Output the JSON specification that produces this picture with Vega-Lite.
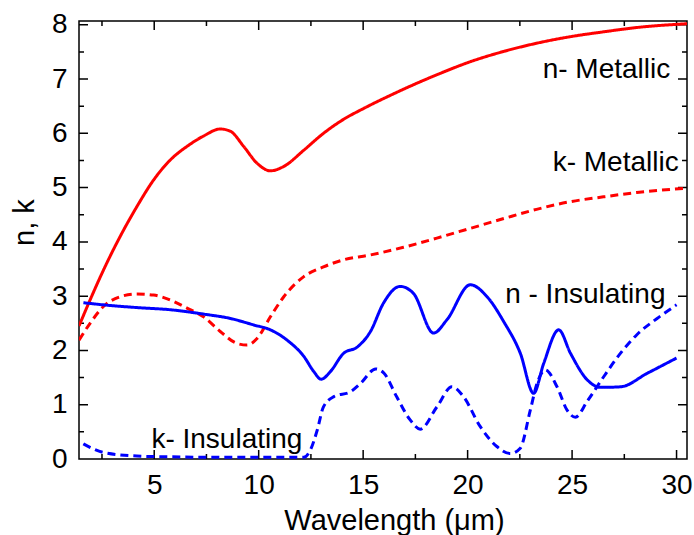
{
  "$schema": "https://vega.github.io/schema/vega-lite/v6.json",
  "width": 608,
  "height": 438,
  "autosize": "none",
  "padding": {"left": 79, "top": 21, "right": 7, "bottom": 76},
  "config": {
    "view": {"stroke": "#000", "strokeWidth": 1.5},
    "font": "Liberation Sans",
    "axis": {
      "domain": false,
      "ticks": false,
      "tickSize": 0,
      "grid": false,
      "labelFontSize": 28,
      "titleFontSize": 29,
      "labelColor": "#000",
      "titleColor": "#000",
      "titleFontWeight": "normal"
    }
  },
  "datasets": {
    "curves": [
      {"s": "n-Metallic", "x": 1.4, "y": 2.45}, {"s": "n-Metallic", "x": 1.93, "y": 2.93}, {"s": "n-Metallic", "x": 2.57, "y": 3.48}, {"s": "n-Metallic", "x": 3.37, "y": 4.1}, {"s": "n-Metallic", "x": 4.17, "y": 4.65}, {"s": "n-Metallic", "x": 4.97, "y": 5.14}, {"s": "n-Metallic", "x": 5.77, "y": 5.51}, {"s": "n-Metallic", "x": 6.57, "y": 5.76}, {"s": "n-Metallic", "x": 7.36, "y": 5.95}, {"s": "n-Metallic", "x": 8.16, "y": 6.08}, {"s": "n-Metallic", "x": 8.64, "y": 6.04}, {"s": "n-Metallic", "x": 9.28, "y": 5.76}, {"s": "n-Metallic", "x": 9.92, "y": 5.45}, {"s": "n-Metallic", "x": 10.56, "y": 5.31}, {"s": "n-Metallic", "x": 11.2, "y": 5.39}, {"s": "n-Metallic", "x": 12.16, "y": 5.69}, {"s": "n-Metallic", "x": 13.1, "y": 6.0}, {"s": "n-Metallic", "x": 14.07, "y": 6.26}, {"s": "n-Metallic", "x": 15.03, "y": 6.46}, {"s": "n-Metallic", "x": 16.3, "y": 6.7}, {"s": "n-Metallic", "x": 18.53, "y": 7.08}, {"s": "n-Metallic", "x": 20.13, "y": 7.32}, {"s": "n-Metallic", "x": 21.73, "y": 7.51}, {"s": "n-Metallic", "x": 23.3, "y": 7.66}, {"s": "n-Metallic", "x": 24.9, "y": 7.78}, {"s": "n-Metallic", "x": 26.5, "y": 7.87}, {"s": "n-Metallic", "x": 28.1, "y": 7.95}, {"s": "n-Metallic", "x": 30.5, "y": 8.02},
      {"s": "k-Metallic", "x": 1.4, "y": 2.19}, {"s": "k-Metallic", "x": 1.93, "y": 2.5}, {"s": "k-Metallic", "x": 2.57, "y": 2.81}, {"s": "k-Metallic", "x": 3.37, "y": 2.99}, {"s": "k-Metallic", "x": 4.17, "y": 3.04}, {"s": "k-Metallic", "x": 4.97, "y": 3.02}, {"s": "k-Metallic", "x": 5.77, "y": 2.93}, {"s": "k-Metallic", "x": 6.57, "y": 2.78}, {"s": "k-Metallic", "x": 7.36, "y": 2.62}, {"s": "k-Metallic", "x": 8.16, "y": 2.35}, {"s": "k-Metallic", "x": 8.96, "y": 2.13}, {"s": "k-Metallic", "x": 9.44, "y": 2.1}, {"s": "k-Metallic", "x": 9.92, "y": 2.22}, {"s": "k-Metallic", "x": 10.56, "y": 2.62}, {"s": "k-Metallic", "x": 11.2, "y": 2.99}, {"s": "k-Metallic", "x": 12.16, "y": 3.36}, {"s": "k-Metallic", "x": 13.1, "y": 3.54}, {"s": "k-Metallic", "x": 14.07, "y": 3.67}, {"s": "k-Metallic", "x": 15.35, "y": 3.76}, {"s": "k-Metallic", "x": 16.93, "y": 3.9}, {"s": "k-Metallic", "x": 18.53, "y": 4.07}, {"s": "k-Metallic", "x": 20.13, "y": 4.25}, {"s": "k-Metallic", "x": 21.73, "y": 4.43}, {"s": "k-Metallic", "x": 23.3, "y": 4.6}, {"s": "k-Metallic", "x": 24.9, "y": 4.74}, {"s": "k-Metallic", "x": 26.5, "y": 4.83}, {"s": "k-Metallic", "x": 28.1, "y": 4.91}, {"s": "k-Metallic", "x": 30.5, "y": 4.99},
      {"s": "n-Insulating", "x": 1.61, "y": 2.88}, {"s": "n-Insulating", "x": 2.57, "y": 2.84}, {"s": "n-Insulating", "x": 4.17, "y": 2.79}, {"s": "n-Insulating", "x": 5.77, "y": 2.75}, {"s": "n-Insulating", "x": 7.36, "y": 2.67}, {"s": "n-Insulating", "x": 8.64, "y": 2.59}, {"s": "n-Insulating", "x": 9.76, "y": 2.47}, {"s": "n-Insulating", "x": 10.56, "y": 2.38}, {"s": "n-Insulating", "x": 11.36, "y": 2.19}, {"s": "n-Insulating", "x": 12.16, "y": 1.89}, {"s": "n-Insulating", "x": 12.64, "y": 1.61}, {"s": "n-Insulating", "x": 12.99, "y": 1.47}, {"s": "n-Insulating", "x": 13.43, "y": 1.61}, {"s": "n-Insulating", "x": 14.07, "y": 1.95}, {"s": "n-Insulating", "x": 14.71, "y": 2.06}, {"s": "n-Insulating", "x": 15.35, "y": 2.35}, {"s": "n-Insulating", "x": 15.97, "y": 2.87}, {"s": "n-Insulating", "x": 16.77, "y": 3.18}, {"s": "n-Insulating", "x": 17.41, "y": 3.05}, {"s": "n-Insulating", "x": 18.37, "y": 2.32}, {"s": "n-Insulating", "x": 19.0, "y": 2.56}, {"s": "n-Insulating", "x": 20.13, "y": 3.21}, {"s": "n-Insulating", "x": 20.93, "y": 2.99}, {"s": "n-Insulating", "x": 21.73, "y": 2.53}, {"s": "n-Insulating", "x": 22.52, "y": 1.95}, {"s": "n-Insulating", "x": 23.16, "y": 1.21}, {"s": "n-Insulating", "x": 23.64, "y": 1.76}, {"s": "n-Insulating", "x": 24.36, "y": 2.38}, {"s": "n-Insulating", "x": 24.92, "y": 1.95}, {"s": "n-Insulating", "x": 25.72, "y": 1.46}, {"s": "n-Insulating", "x": 26.36, "y": 1.32}, {"s": "n-Insulating", "x": 27.32, "y": 1.33}, {"s": "n-Insulating", "x": 28.6, "y": 1.58}, {"s": "n-Insulating", "x": 30.0, "y": 1.86},
      {"s": "k-Insulating", "x": 1.61, "y": 0.28}, {"s": "k-Insulating", "x": 2.57, "y": 0.12}, {"s": "k-Insulating", "x": 4.17, "y": 0.055}, {"s": "k-Insulating", "x": 5.77, "y": 0.04}, {"s": "k-Insulating", "x": 8.96, "y": 0.03}, {"s": "k-Insulating", "x": 12.16, "y": 0.03}, {"s": "k-Insulating", "x": 12.48, "y": 0.17}, {"s": "k-Insulating", "x": 12.8, "y": 0.53}, {"s": "k-Insulating", "x": 13.1, "y": 0.96}, {"s": "k-Insulating", "x": 13.6, "y": 1.15}, {"s": "k-Insulating", "x": 14.4, "y": 1.24}, {"s": "k-Insulating", "x": 14.87, "y": 1.39}, {"s": "k-Insulating", "x": 15.6, "y": 1.66}, {"s": "k-Insulating", "x": 16.0, "y": 1.58}, {"s": "k-Insulating", "x": 16.6, "y": 1.15}, {"s": "k-Insulating", "x": 17.25, "y": 0.72}, {"s": "k-Insulating", "x": 17.73, "y": 0.55}, {"s": "k-Insulating", "x": 18.53, "y": 0.96}, {"s": "k-Insulating", "x": 19.25, "y": 1.33}, {"s": "k-Insulating", "x": 19.8, "y": 1.15}, {"s": "k-Insulating", "x": 20.6, "y": 0.6}, {"s": "k-Insulating", "x": 21.4, "y": 0.23}, {"s": "k-Insulating", "x": 22.04, "y": 0.1}, {"s": "k-Insulating", "x": 22.52, "y": 0.2}, {"s": "k-Insulating", "x": 23.0, "y": 0.9}, {"s": "k-Insulating", "x": 23.32, "y": 1.39}, {"s": "k-Insulating", "x": 23.72, "y": 1.64}, {"s": "k-Insulating", "x": 24.28, "y": 1.33}, {"s": "k-Insulating", "x": 24.76, "y": 0.9}, {"s": "k-Insulating", "x": 25.16, "y": 0.77}, {"s": "k-Insulating", "x": 25.72, "y": 1.06}, {"s": "k-Insulating", "x": 26.52, "y": 1.52}, {"s": "k-Insulating", "x": 27.32, "y": 1.95}, {"s": "k-Insulating", "x": 28.1, "y": 2.29}, {"s": "k-Insulating", "x": 29.07, "y": 2.59}, {"s": "k-Insulating", "x": 30.0, "y": 2.84}
    ],
    "labels": [
      {"x": 29.7, "y": 7.17, "label": "n- Metallic"},
      {"x": 30.1, "y": 5.45, "label": "k- Metallic"},
      {"x": 29.47, "y": 3.02, "label": "n - Insulating"},
      {"x": 12.09, "y": 0.35, "label": "k- Insulating"}
    ],
    "xticks": [
      {"v": 2.5, "kind": "minor"}, {"v": 5, "kind": "major"}, {"v": 7.5, "kind": "minor"}, {"v": 10, "kind": "major"}, {"v": 12.5, "kind": "minor"}, {"v": 15, "kind": "major"}, {"v": 17.5, "kind": "minor"}, {"v": 20, "kind": "major"}, {"v": 22.5, "kind": "minor"}, {"v": 25, "kind": "major"}, {"v": 27.5, "kind": "minor"}, {"v": 30, "kind": "major"}
    ],
    "yticks": [
      {"v": 0.5, "kind": "minor"}, {"v": 1, "kind": "major"}, {"v": 1.5, "kind": "minor"}, {"v": 2, "kind": "major"}, {"v": 2.5, "kind": "minor"}, {"v": 3, "kind": "major"}, {"v": 3.5, "kind": "minor"}, {"v": 4, "kind": "major"}, {"v": 4.5, "kind": "minor"}, {"v": 5, "kind": "major"}, {"v": 5.5, "kind": "minor"}, {"v": 6, "kind": "major"}, {"v": 6.5, "kind": "minor"}, {"v": 7, "kind": "major"}, {"v": 7.5, "kind": "minor"}, {"v": 8, "kind": "major"}
    ]
  },
  "layer": [
    {
      "data": {"name": "xticks"},
      "transform": [{"filter": "datum.kind === 'major'"}],
      "mark": {"type": "rule", "color": "#000", "strokeWidth": 1.5, "strokeDash": [9, 420, 9, 300]},
      "encoding": {
        "x": {"field": "v", "type": "quantitative", "axis": null},
        "y": {"datum": 0, "type": "quantitative", "axis": null},
        "y2": {"datum": 8.07}
      }
    },
    {
      "data": {"name": "xticks"},
      "transform": [{"filter": "datum.kind === 'minor'"}],
      "mark": {"type": "rule", "color": "#000", "strokeWidth": 1.5, "strokeDash": [5, 428, 5, 300]},
      "encoding": {
        "x": {"field": "v", "type": "quantitative", "axis": null},
        "y": {"datum": 0, "type": "quantitative", "axis": null},
        "y2": {"datum": 8.07}
      }
    },
    {
      "data": {"name": "yticks"},
      "transform": [{"filter": "datum.kind === 'major'"}],
      "mark": {"type": "rule", "color": "#000", "strokeWidth": 1.5, "strokeDash": [9, 590, 9, 300]},
      "encoding": {
        "y": {"field": "v", "type": "quantitative", "axis": null},
        "x": {"datum": 1.4, "type": "quantitative", "axis": null},
        "x2": {"datum": 30.5}
      }
    },
    {
      "data": {"name": "yticks"},
      "transform": [{"filter": "datum.kind === 'minor'"}],
      "mark": {"type": "rule", "color": "#000", "strokeWidth": 1.5, "strokeDash": [5, 598, 5, 300]},
      "encoding": {
        "y": {"field": "v", "type": "quantitative", "axis": null},
        "x": {"datum": 1.4, "type": "quantitative", "axis": null},
        "x2": {"datum": 30.5}
      }
    },
    {
      "data": {"name": "curves"},
      "mark": {"type": "line", "interpolate": "monotone", "strokeWidth": 3, "clip": true},
      "encoding": {
        "x": {
          "field": "x", "type": "quantitative",
          "scale": {"domain": [1.4, 30.5], "nice": false, "zero": false},
          "axis": {
            "orient": "bottom",
            "title": "Wavelength (μm)",
            "values": [5, 10, 15, 20, 25, 30],
            "format": "d",
            "labelPadding": 12,
            "titleX": 315,
            "titleY": 70,
            "titleBaseline": "alphabetic",
            "titleAnchor": "middle",
            "titleAlign": "center"
          }
        },
        "y": {
          "field": "y", "type": "quantitative",
          "scale": {"domain": [0, 8.07], "nice": false, "zero": false},
          "axis": {
            "orient": "left",
            "title": "n, k",
            "values": [0, 1, 2, 3, 4, 5, 6, 7, 8],
            "format": "d",
            "labelPadding": 12,
            "titleX": -46,
            "titleY": 201,
            "titleBaseline": "alphabetic",
            "titleAlign": "center"
          }
        },
        "color": {
          "field": "s", "type": "nominal",
          "scale": {"domain": ["n-Metallic", "k-Metallic", "n-Insulating", "k-Insulating"], "range": ["#ff0000", "#ff0000", "#0000ff", "#0000ff"]},
          "legend": null
        },
        "strokeDash": {
          "field": "s", "type": "nominal",
          "scale": {"domain": ["n-Metallic", "k-Metallic", "n-Insulating", "k-Insulating"], "range": [[1, 0], [8, 5], [1, 0], [8, 5]]},
          "legend": null
        }
      }
    },
    {
      "data": {"name": "labels"},
      "mark": {"type": "text", "align": "right", "baseline": "middle", "fontSize": 28, "font": "Liberation Sans", "color": "#000"},
      "encoding": {
        "x": {"field": "x", "type": "quantitative", "axis": null},
        "y": {"field": "y", "type": "quantitative", "axis": null},
        "text": {"field": "label"}
      }
    }
  ],
  "resolve": {"axis": {"x": "independent", "y": "independent"}}
}
